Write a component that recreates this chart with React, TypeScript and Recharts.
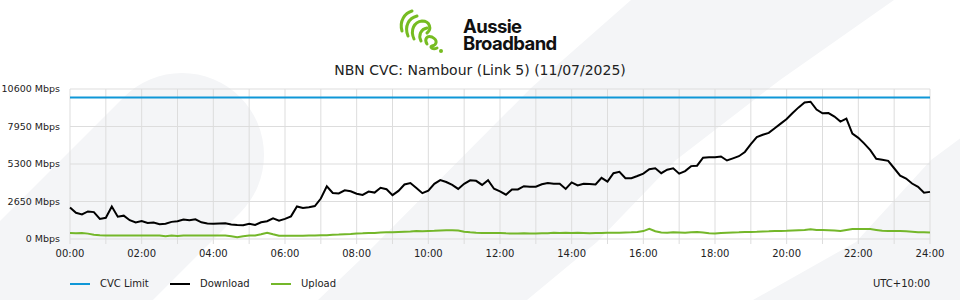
import { CartesianGrid, Line, LineChart, XAxis, YAxis } from "recharts"

// 10-minute samples, 00:00 to 24:00 (Mbps)
const DOWNLOAD = [
  2220, 1850, 1740, 1950, 1900, 1420, 1500, 2300, 1580, 1650,
  1330, 1170, 1270, 1130, 1170, 1050, 1080, 1210, 1250, 1380,
  1330, 1390, 1180, 1090, 1080, 1100, 1110, 1020, 990, 980,
  1080, 990, 1180, 1260, 1460, 1300, 1420, 1600, 2300, 2190,
  2250, 2330, 2860, 3720, 3250, 3220, 3440, 3370, 3200, 3110,
  3350, 3280, 3620, 3520, 3100, 3400, 3850, 3950, 3600, 3240,
  3420, 3900, 4160, 4030, 3830, 3540, 3900, 4150, 4110, 3820,
  4150, 3550, 3360, 3130, 3500, 3500, 3730, 3700, 3700, 3870,
  3950, 3900, 3900, 3540, 4000, 3780, 3900, 3880, 3850, 4320,
  4050, 4650, 4750, 4300, 4300, 4450, 4620, 4930, 5000, 4650,
  4900, 5000, 4620, 4800, 5150, 5180, 5750, 5770, 5780, 5830,
  5550, 5700, 5850, 6150, 6700, 7200, 7370, 7500, 7830, 8150,
  8480, 8900, 9300, 9650, 9700, 9150, 8880, 8900, 8650, 8300,
  8500, 7450, 7150, 6740, 6280, 5670, 5600, 5520, 5000, 4480,
  4270, 3920, 3690, 3270, 3330,
]

const UPLOAD = [
  420, 400, 430, 380, 300, 260, 250, 250, 250, 250,
  250, 250, 250, 250, 250, 250, 200, 250, 220, 250,
  250, 250, 250, 250, 250, 250, 250, 200, 130, 200,
  250, 250, 330, 440, 330, 230, 230, 230, 230, 230,
  240, 250, 260, 270, 300, 310, 340, 350, 380, 400,
  430, 420, 460, 470, 480, 500, 520, 530, 560, 550,
  570, 580, 600, 610, 620, 600, 520, 470, 440, 430,
  420, 420, 420, 400, 390, 390, 400, 390, 390, 400,
  400, 440, 420, 440, 420, 440, 430, 400, 430, 430,
  440, 450, 440, 460, 470, 500, 560, 720, 550, 460,
  440, 480, 460, 440, 470, 500, 460, 400, 390, 420,
  440, 460, 470, 490, 500, 510, 530, 540, 560, 570,
  580, 600, 620, 630, 690, 630, 630, 620, 600, 570,
  640, 700, 700, 700, 700, 640, 580, 560, 560, 560,
  540, 520, 480, 480, 460,
]

const CVC_LIMIT = 10000
const STEP_MINUTES = 10
const Y_TICKS = [0, 2650, 5300, 7950, 10600]
const HOUR_LABELS = [
  "00:00", "", "02:00", "", "04:00", "", "06:00", "", "08:00", "", "10:00", "", "12:00",
  "", "14:00", "", "16:00", "", "18:00", "", "20:00", "", "22:00", "", "24:00",
]

const COLORS = { cvc: "#0f97d7", download: "#000000", upload: "#74b72a", grid: "#dddddd", bg: "#f4f5f7" }
const FONT = "'DejaVu Sans', sans-serif"

const data = DOWNLOAD.map((download, i) => ({
  minute: i * STEP_MINUTES,
  cvc: CVC_LIMIT,
  download,
  upload: UPLOAD[i],
}))

const hourTicks = HOUR_LABELS.map((_, h) => h * 60)

const LEGEND = [
  { label: "CVC Limit", color: COLORS.cvc, left: 70 },
  { label: "Download", color: COLORS.download, left: 170 },
  { label: "Upload", color: COLORS.upload, left: 271 },
]

function YTick({ y, payload }: any) {
  return (
    <text x={60} y={y} dy="0.35em" textAnchor="end" fontSize={9.5} fill="#222" fontFamily={FONT}>
      {`${payload.value} Mbps`}
    </text>
  )
}

function Background() {
  return (
    <svg width={960} height={300} style={{ position: "absolute", left: 0, top: 0 }}>
      <line x1={182} y1={155} x2={-118} y2={455} stroke={COLORS.bg} strokeWidth={164} strokeLinecap="round" />
      <polygon points="631,0 894,0 780,80 676,160 597,242 527,300 318,300 360,260 531,88" fill={COLORS.bg} />
      <polygon points="985,120 931,160 856,242 753,300 960,300" fill={COLORS.bg} />
    </svg>
  )
}

function Logo() {
  const g = "#76bc21"
  return (
    <svg width={960} height={60} style={{ position: "absolute", left: 0, top: 0 }}>
      <g fill="none" stroke={g} strokeWidth={3} strokeLinecap="round">
        <path d="M402,31 C399,21 405,13 412,11" />
        <path d="M408,36 C404,26 409,18 417,16" />
        <path d="M414,39 C410,30 414,22 422,21 C430,21 432,29 427,33" />
        <path d="M421,41 C418,35 421,29 427,28" />
        <path d="M427,44 C424,39 427,35 432,37 C438,40 437,45 432,46 C429,47 433,50 437,48" />
      </g>
      <circle cx={441} cy={51} r={2} fill={g} />
      <text fontFamily="Inter, sans-serif" fontWeight={700} fontSize={18.5} letterSpacing={-0.6} fill="#111">
        <tspan x={463} y={33}>Aussie</tspan>
        <tspan x={463} y={49.5}>Broadband</tspan>
      </text>
    </svg>
  )
}

export default function App() {
  return (
    <div style={{ position: "absolute", left: 0, top: 0, width: 960, height: 300, background: "#fff", overflow: "hidden" }}>
      <Background />
      <Logo />
      <div
        style={{ position: "absolute", left: 0, top: 62, width: 960, textAlign: "center", fontFamily: FONT, fontSize: 14, color: "#222" }}
      >
        NBN CVC: Nambour (Link 5) (11/07/2025)
      </div>
      <div style={{ position: "absolute", left: 0, top: 0 }}>
        <LineChart width={960} height={300} data={data} margin={{ top: 89, right: 30, bottom: 31, left: 0 }}>
          <CartesianGrid stroke={COLORS.grid} />
          <XAxis
            dataKey="minute"
            type="number"
            domain={[0, 1440]}
            ticks={hourTicks}
            interval={0}
            tickFormatter={(v: number) => HOUR_LABELS[v / 60]}
            axisLine={false}
            tickLine={{ stroke: COLORS.grid }}
            tickSize={5}
            tickMargin={6}
            height={30}
            tick={{ fontSize: 10, fill: "#222", fontFamily: FONT }}
          />
          <YAxis
            type="number"
            domain={[0, 10600]}
            ticks={Y_TICKS}
            interval={0}
            axisLine={false}
            tickLine={false}
            width={70}
            tick={<YTick />}
          />
          <Line dataKey="cvc" stroke={COLORS.cvc} strokeWidth={2} dot={false} isAnimationActive={false} />
          <Line dataKey="upload" stroke={COLORS.upload} strokeWidth={2} dot={false} isAnimationActive={false} />
          <Line dataKey="download" stroke={COLORS.download} strokeWidth={2} dot={false} isAnimationActive={false} />
        </LineChart>
      </div>
      {LEGEND.map((item) => (
        <div key={item.label} style={{ position: "absolute", left: item.left, top: 277, display: "flex", alignItems: "center", fontFamily: FONT, fontSize: 10, color: "#222" }}>
          <span style={{ display: "inline-block", width: 20, height: 2, background: item.color, marginRight: 10 }} />
          <span style={{ lineHeight: "14px" }}>{item.label}</span>
        </div>
      ))}
      <div style={{ position: "absolute", right: 30, top: 277, fontFamily: FONT, fontSize: 10, color: "#222", lineHeight: "14px" }}>
        UTC+10:00
      </div>
    </div>
  )
}
